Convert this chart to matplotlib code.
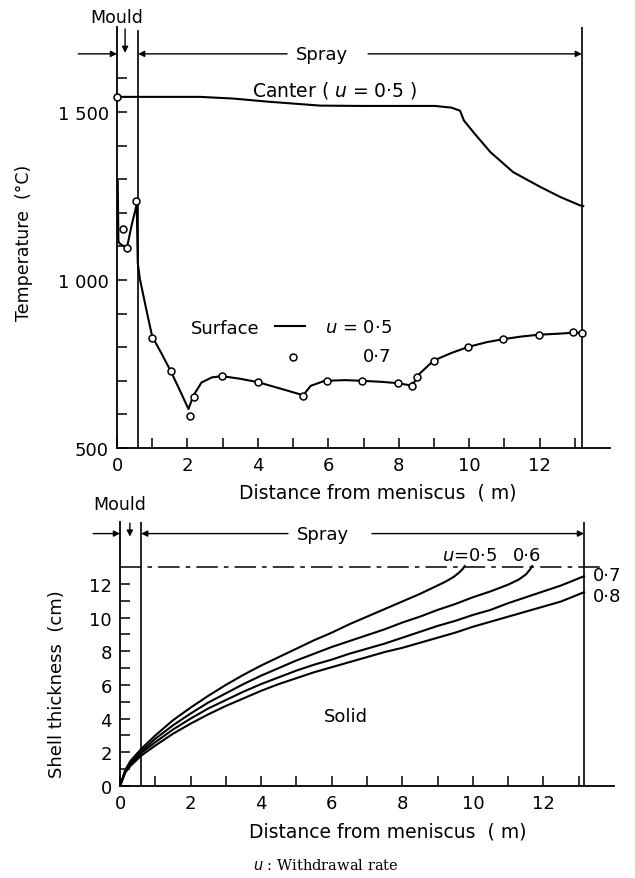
import matplotlib
matplotlib.use("Agg")
import matplotlib.pyplot as plt

plt.rcParams['font.family'] = ['DejaVu Sans']
plt.rcParams['mathtext.fontset'] = 'dejavusans'

# ---------------- data: top chart ----------------
center_x = [0.13, 1.0, 2.36, 3.3, 4.26, 5.77, 7.0, 8.0, 9.03, 9.5, 9.74, 9.85, 10.12, 10.6, 11.25, 12.02, 12.59, 13.15, 13.24]
center_T = [1545, 1545, 1545, 1540, 1531, 1519, 1518, 1518, 1518, 1513, 1504, 1475, 1440, 1381, 1321, 1277, 1247, 1222, 1220]

surf05_x = [0.02, 0.04, 0.08, 0.28, 0.42, 0.56, 0.59, 0.65, 0.75, 0.89, 1.0, 1.27, 1.53, 1.8, 2.03, 2.17, 2.4, 2.69,
            2.97, 3.5, 4.0, 4.6, 5.29, 5.5, 5.9, 6.5, 6.95, 7.5, 7.97, 8.3, 8.45, 8.6, 8.99, 9.5, 9.98, 10.5,
            10.97, 11.5, 11.97, 12.5, 12.95, 13.2]
surf05_T = [1295, 1116, 1108, 1095, 1165, 1225, 1050, 1003, 953, 884, 832, 780, 728, 668, 616, 656, 695, 710,
            714, 706, 696, 678, 657, 685, 700, 702, 700, 697, 693, 687, 697, 722, 760, 783, 801, 815,
            824, 832, 837, 840, 843, 843]

surf07_x = [0.0, 0.18, 0.28, 0.54, 1.0, 1.53, 2.08, 2.2, 2.97, 4.0, 5.29, 5.96, 6.95, 7.97, 8.39, 8.51, 8.99,
            9.98, 10.97, 11.97, 12.95, 13.2]
surf07_T = [1545, 1152, 1095, 1236, 828, 728, 596, 652, 714, 696, 656, 700, 700, 693, 685, 710, 760,
            801, 824, 837, 844, 842]

top_yticks = [500, 1000, 1500]
top_yticklabels = ['500', '1 000', '1 500']
xticks_major = [0, 2, 4, 6, 8, 10, 12]

# ---------------- data: bottom chart ----------------
sh05_x = [0, 0.15, 0.3, 0.6, 1, 1.5, 2, 2.5, 3, 3.5, 4, 4.5, 5, 5.5, 6, 6.5, 7, 7.5, 8, 8.5, 8.9, 9.2, 9.45, 9.6, 9.7, 9.77]
sh05_y = [0, 0.95, 1.5, 2.2, 3.0, 3.9, 4.65, 5.35, 6.0, 6.6, 7.15, 7.65, 8.15, 8.65, 9.1, 9.6, 10.05, 10.5, 10.95, 11.4,
          11.8, 12.1, 12.4, 12.65, 12.85, 13.05]
sh06_x = [0, 0.15, 0.3, 0.6, 1, 1.5, 2, 2.5, 3, 3.5, 4, 4.5, 5, 5.5, 6, 6.5, 7, 7.5, 8, 8.5, 9, 9.5, 10, 10.5, 11,
          11.3, 11.5, 11.62, 11.68]
sh06_y = [0, 0.9, 1.4, 2.05, 2.8, 3.6, 4.3, 4.95, 5.5, 6.05, 6.55, 7.0, 7.45, 7.85, 8.25, 8.6, 8.95, 9.3, 9.7, 10.05,
          10.45, 10.8, 11.2, 11.55, 11.95, 12.25, 12.55, 12.85, 13.05]
sh07_x = [0, 0.15, 0.3, 0.6, 1, 1.5, 2, 2.5, 3, 3.5, 4, 4.5, 5, 5.5, 6, 6.5, 7, 7.5, 8, 8.5, 9, 9.5, 10, 10.5, 11,
          11.5, 12, 12.5, 13.15]
sh07_y = [0, 0.85, 1.3, 1.95, 2.6, 3.35, 4.0, 4.6, 5.1, 5.6, 6.05, 6.45, 6.85, 7.2, 7.5, 7.85, 8.15, 8.45, 8.8, 9.15,
          9.5, 9.8, 10.15, 10.45, 10.85, 11.2, 11.55, 11.9, 12.45]
sh08_x = [0, 0.15, 0.3, 0.6, 1, 1.5, 2, 2.5, 3, 3.5, 4, 4.5, 5, 5.5, 6, 6.5, 7, 7.5, 8, 8.5, 9, 9.5, 10, 10.5, 11,
          11.5, 12, 12.5, 13.15]
sh08_y = [0, 0.8, 1.2, 1.8, 2.4, 3.1, 3.7, 4.25, 4.75, 5.2, 5.65, 6.05, 6.4, 6.75, 7.05, 7.35, 7.65, 7.95, 8.2, 8.5,
          8.8, 9.1, 9.45, 9.75, 10.05, 10.35, 10.65, 10.95, 11.5]

bot_yticks = [0, 2, 4, 6, 8, 10, 12]

mould_end = 0.6
spray_end = 13.2

W, H = 635, 879
fig = plt.figure(figsize=(W / 100, H / 100), dpi=100)

def rect(l, t, r, b):
    return [l / W, 1 - b / H, (r - l) / W, (b - t) / H]

LW = 1.5
TFS = 13
LFS = 12
AFS = 13

def style_axes(ax):
    for s in ['top', 'right']:
        ax.spines[s].set_visible(False)
    for s in ['left', 'bottom']:
        ax.spines[s].set_linewidth(1.3)
    ax.tick_params(direction='in', length=7, width=1.1, labelsize=TFS, pad=6)

def arrow(ax, x0, y0, x1, y1):
    ax.annotate('', xy=(x1, y1), xytext=(x0, y0),
                arrowprops=dict(arrowstyle='-|>', mutation_scale=9, lw=1.0, color='k',
                                shrinkA=0, shrinkB=0),
                annotation_clip=False)

# ================= TOP =================
ax1 = fig.add_axes(rect(117, 28, 610, 449))
style_axes(ax1)
ax1.set_xlim(0, 14)
ax1.set_ylim(500, 500 + 421 / 0.336)
ax1.set_xticks(range(0, 14))
ax1.set_xticklabels([str(i) if i in xticks_major else '' for i in range(0, 14)])
ax1.set_yticks(range(500, 1700, 100))
ax1.set_yticklabels([top_yticklabels[top_yticks.index(v)] if v in top_yticks else '' for v in range(500, 1700, 100)])

ax1.plot(center_x, center_T, color='k', lw=LW)
ax1.plot(surf05_x, surf05_T, color='k', lw=LW)
ax1.plot(surf07_x, surf07_T, ls='none', marker='o', ms=5, mfc='white', mec='k', mew=1.1, clip_on=False, zorder=5)

ax1.axvline(mould_end, ymax=(1741 - 500) / (421 / 0.336), color='k', lw=1.2)
ax1.axvline(spray_end, color='k', lw=1.2)

ys = 1673
arrow(ax1, -1.1, ys, 0, ys)
arrow(ax1, 4.83, ys, mould_end, ys)
arrow(ax1, 7.13, ys, spray_end, ys)
ax1.text(5.81, ys, 'Spray', ha='center', va='center', fontsize=AFS)
ax1.text(0, 1783, 'Mould', ha='center', va='center', fontsize=LFS + 0.5, clip_on=False)
arrow(ax1, 0.23, 1747, 0.23, 1676)

ax1.text(3.84, 1568, 'Canter ( $u$ = 0·5 )', ha='left', va='center', fontsize=AFS + 0.5)
ax1.text(2.1, 856, 'Surface', ha='left', va='center', fontsize=AFS)
ax1.plot([4.49, 5.34], [864, 864], color='k', lw=LW)
ax1.text(5.91, 860, '$u$ = 0·5', ha='left', va='center', fontsize=AFS)
ax1.plot([4.99], [772], ls='none', marker='o', ms=5, mfc='white', mec='k', mew=1.1)
ax1.text(6.99, 774, '0·7', ha='left', va='center', fontsize=AFS)

fig.text(378 / W, 1 - 493 / H, 'Distance from meniscus  ( m)', ha='center', va='center', fontsize=13.5)
fig.text(24 / W, 1 - 243 / H, 'Temperature  (°C)', ha='center', va='center', rotation=90, fontsize=12.5)

# ================= BOTTOM =================
ax2 = fig.add_axes(rect(120, 523, 614, 787))
style_axes(ax2)
ax2.set_xlim(0, 14)
ax2.set_ylim(0, 264 / 16.85)
ax2.set_xticks(range(0, 14))
ax2.set_xticklabels([str(i) if i in xticks_major else '' for i in range(0, 14)])
ax2.set_yticks(range(0, 13))
ax2.set_yticklabels([str(i) if i in bot_yticks else '' for i in range(0, 13)])

for xs, yv in [(sh05_x, sh05_y), (sh06_x, sh06_y), (sh07_x, sh07_y), (sh08_x, sh08_y)]:
    ax2.plot(xs, yv, color='k', lw=LW)

ax2.axvline(mould_end, color='k', lw=1.2)
ax2.axvline(spray_end - 0.05, color='k', lw=1.2)
ax2.plot([0, 13.7], [13, 13], color='k', lw=1.1, dashes=(14, 4, 3, 4), clip_on=False)

yb = 14.98
arrow(ax2, -0.76, yb, 0, yb)
arrow(ax2, 4.76, yb, mould_end, yb)
arrow(ax2, 7.14, yb, spray_end - 0.05, yb)
ax2.text(5.76, yb, 'Spray', ha='center', va='center', fontsize=AFS)
ax2.text(0, 16.75, 'Mould', ha='center', va='center', fontsize=LFS + 0.5, clip_on=False)
arrow(ax2, 0.28, 15.6, 0.28, 14.8)

ax2.text(9.12, 13.15, '$u$=0·5', ha='left', va='bottom', fontsize=AFS)
ax2.text(11.13, 13.15, '0·6', ha='left', va='bottom', fontsize=AFS)
ax2.text(13.4, 12.5, '0·7', ha='left', va='center', fontsize=AFS, clip_on=False)
ax2.text(13.4, 11.3, '0·8', ha='left', va='center', fontsize=AFS, clip_on=False)
ax2.text(6.4, 4.15, 'Solid', ha='center', va='center', fontsize=AFS)

fig.text(388 / W, 1 - 832 / H, 'Distance from meniscus  ( m)', ha='center', va='center', fontsize=13.5)
fig.text(57 / W, 1 - 684 / H, 'Shell thickness  (cm)', ha='center', va='center', rotation=90, fontsize=13)

fig.text(326 / W, 1 - 866 / H, '$u$ : Withdrawal rate', ha='center', va='center', fontsize=10.5,
         family='DejaVu Serif')

fig.savefig('out.png', dpi=100)
